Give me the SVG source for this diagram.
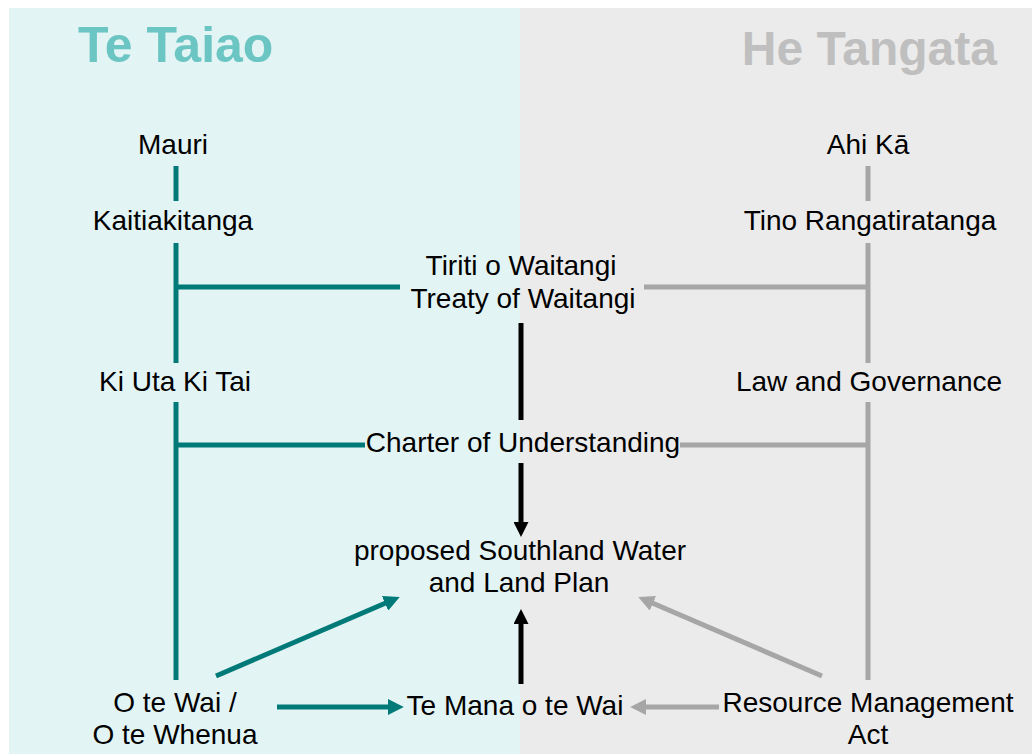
<svg xmlns="http://www.w3.org/2000/svg" width="1032" height="754" viewBox="0 0 1032 754">
  <style>
    .t { font-family: "Liberation Sans", Arial, sans-serif; font-size: 28px; fill: #000; text-anchor: middle; }
    .title { font-family: "Liberation Sans", Arial, sans-serif; font-weight: bold; }
    .teal { stroke: #007A78; stroke-width: 5; fill: none; }
    .grey { stroke: #A6A6A6; stroke-width: 5; fill: none; }
    .blk { stroke: #000; stroke-width: 5; fill: none; }
  </style>
  <defs>
    <marker id="ahTeal" viewBox="0 0 10 10" refX="2" refY="5" markerWidth="3.2" markerHeight="3.2" orient="auto" markerUnits="strokeWidth">
      <path d="M0,0 L10,5 L0,10 z" fill="#007A78"/>
    </marker>
    <marker id="ahGrey" viewBox="0 0 10 10" refX="2" refY="5" markerWidth="3.2" markerHeight="3.2" orient="auto" markerUnits="strokeWidth">
      <path d="M0,0 L10,5 L0,10 z" fill="#A6A6A6"/>
    </marker>
    <marker id="ahBlk" viewBox="0 0 10 10" refX="2" refY="5" markerWidth="3" markerHeight="3" orient="auto" markerUnits="strokeWidth">
      <path d="M0,0 L10,5 L0,10 z" fill="#000"/>
    </marker>
  </defs>

  <rect x="0" y="0" width="1032" height="754" fill="#FFFFFF"/>
  <rect x="9" y="8" width="511" height="746" fill="#E3F4F4"/>
  <rect x="520" y="8" width="512" height="746" fill="#EBEBEB"/>

  <text class="title" x="78" y="62" font-size="50" fill="#6BC5C3">Te Taiao</text>
  <text class="title" x="997" y="65" font-size="48" fill="#BFBFBF" text-anchor="end">He Tangata</text>

  <g id="connectors">
    <line class="teal" x1="176" y1="166" x2="176" y2="201"/>
    <line class="teal" x1="176" y1="243" x2="176" y2="363"/>
    <line class="teal" x1="176" y1="402" x2="176" y2="680"/>
    <line class="teal" x1="176" y1="287" x2="400" y2="287"/>
    <line class="teal" x1="176" y1="445" x2="365" y2="445"/>

    <line class="grey" x1="868" y1="166" x2="868" y2="201"/>
    <line class="grey" x1="868" y1="243" x2="868" y2="363"/>
    <line class="grey" x1="868" y1="402" x2="868" y2="680"/>
    <line class="grey" x1="644" y1="287" x2="868" y2="287"/>
    <line class="grey" x1="680" y1="445" x2="868" y2="445"/>

    <line class="blk" x1="521" y1="323" x2="521" y2="420"/>
    <line class="blk" x1="521" y1="463" x2="521" y2="525" marker-end="url(#ahBlk)"/>
    <line class="blk" x1="521" y1="684" x2="521" y2="621" marker-end="url(#ahBlk)"/>

    <line class="teal" x1="216" y1="676" x2="388" y2="602" marker-end="url(#ahTeal)"/>
    <line class="teal" x1="277" y1="707" x2="391" y2="707" marker-end="url(#ahTeal)"/>

    <line class="grey" x1="822" y1="676" x2="650" y2="602" marker-end="url(#ahGrey)"/>
    <line class="grey" x1="719" y1="707" x2="643" y2="707" marker-end="url(#ahGrey)"/>
  </g>

  <g id="mauri"><text class="t" x="173" y="154">Mauri</text></g>
  <g id="kaitiakitanga"><text class="t" x="173" y="230">Kaitiakitanga</text></g>
  <g id="ahi-ka"><text class="t" x="868" y="154">Ahi Kā</text></g>
  <g id="tino-rangatiratanga"><text class="t" x="870" y="230">Tino Rangatiratanga</text></g>
  <g id="tiriti">
    <text class="t" x="521" y="275">Tiriti o Waitangi</text>
    <text class="t" x="523" y="308">Treaty of Waitangi</text>
  </g>
  <g id="ki-uta-ki-tai"><text class="t" x="175" y="391">Ki Uta Ki Tai</text></g>
  <g id="law-governance"><text class="t" x="869" y="391">Law and Governance</text></g>
  <g id="charter"><text class="t" x="523" y="452">Charter of Understanding</text></g>
  <g id="plan">
    <text class="t" x="520" y="560">proposed Southland Water</text>
    <text class="t" x="519" y="592">and Land Plan</text>
  </g>
  <g id="o-te-wai">
    <text class="t" x="175" y="712">O te Wai /</text>
    <text class="t" x="175" y="744">O te Whenua</text>
  </g>
  <g id="te-mana"><text class="t" x="515" y="715">Te Mana o te Wai</text></g>
  <g id="rma">
    <text class="t" x="868" y="712">Resource Management</text>
    <text class="t" x="868" y="744">Act</text>
  </g>
</svg>
